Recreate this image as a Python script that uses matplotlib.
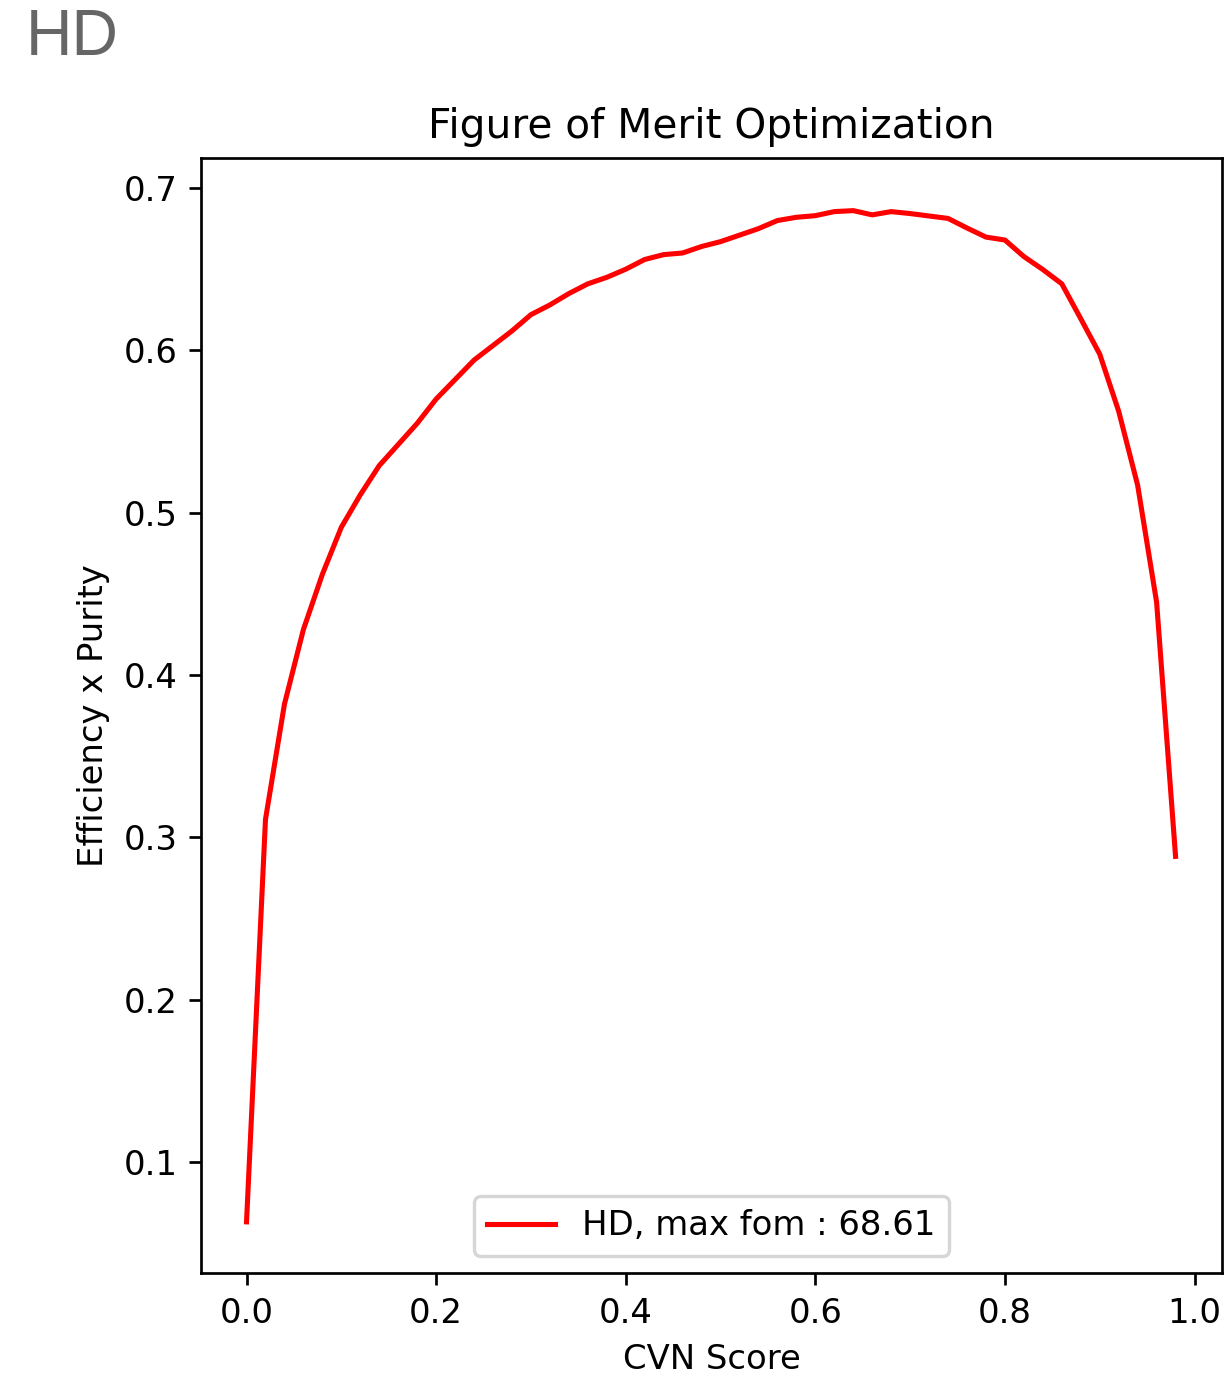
import matplotlib
matplotlib.use('Agg')
import matplotlib.pyplot as plt

# CVN score cut values and the efficiency x purity
cvn_cut = [0.00, 0.02, 0.04, 0.06, 0.08, 0.10, 0.12, 0.14, 0.16, 0.18,
           0.20, 0.22, 0.24, 0.26, 0.28, 0.30, 0.32, 0.34, 0.36, 0.38,
           0.40, 0.42, 0.44, 0.46, 0.48, 0.50, 0.52, 0.54, 0.56, 0.58,
           0.60, 0.62, 0.64, 0.66, 0.68, 0.70, 0.72, 0.74, 0.76, 0.78,
           0.80, 0.82, 0.84, 0.86, 0.88, 0.90, 0.92, 0.94, 0.96, 0.98]
fom = [0.063, 0.311, 0.382, 0.428, 0.462, 0.491, 0.511, 0.529, 0.542, 0.555,
       0.570, 0.582, 0.594, 0.603, 0.612, 0.622, 0.628, 0.635, 0.641, 0.645,
       0.650, 0.656, 0.659, 0.660, 0.664, 0.667, 0.671, 0.675, 0.680, 0.682,
       0.683, 0.6855, 0.6861, 0.6835, 0.6855, 0.6843, 0.6828, 0.6813, 0.6754, 0.6698,
       0.668, 0.6578, 0.6498, 0.641, 0.6195, 0.5977, 0.5625, 0.5169, 0.4449, 0.2882]
sample = 'HD'
max_fom = 68.61

DPI = 244


def main():
	fig = plt.figure(figsize=(1231 / DPI, 1378 / DPI), dpi=DPI)
	ax = fig.add_axes([0.1633, 0.0762, 0.8294, 0.8091])
	ax.plot(cvn_cut, fom, color='red', linewidth=1.5,
		label='{:s}, max fom : {:.2f}'.format(sample, max_fom))
	ax.set_xlim(-0.048, 1.029)
	ax.set_ylim(0.0315, 0.7185)
	ax.set_xticks([0.0, 0.2, 0.4, 0.6, 0.8, 1.0])
	ax.set_yticks([0.1, 0.2, 0.3, 0.4, 0.5, 0.6, 0.7])
	ax.set_title('Figure of Merit Optimization', fontsize=12)
	ax.set_xlabel('CVN Score')
	ax.set_ylabel('Efficiency x Purity')
	ax.legend(loc='lower center')
	fig.text(0.021, 0.96, sample, fontsize=19, color='#666666',
		family='Liberation Sans', va='baseline')
	fig.savefig('out.png', dpi=DPI)


if __name__ == '__main__':
	main()
